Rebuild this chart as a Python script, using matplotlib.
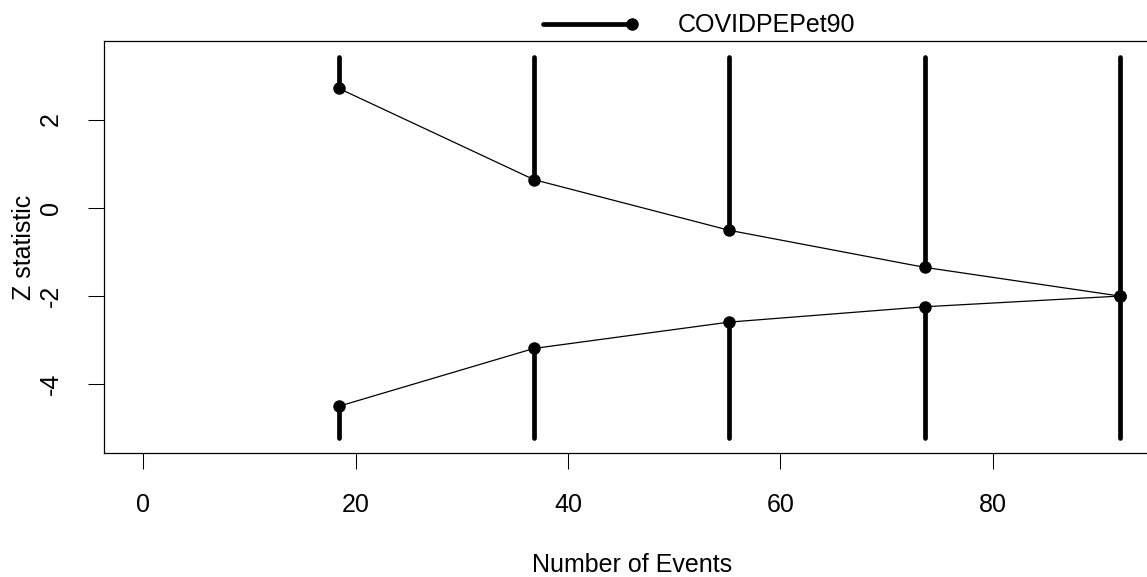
import matplotlib
matplotlib.use("Agg")
import matplotlib.pyplot as plt
from matplotlib.lines import Line2D

plt.rcParams["font.family"] = ["Liberation Sans", "DejaVu Sans"]
plt.rcParams["font.size"] = 18

# sınırlar (grup sıralı tasarım)
events = [18.4, 36.8, 55.2, 73.6, 92.0]
upper_z = [2.71, 0.636, -0.514, -1.355, -2.007]
lower_z = [-4.51, -3.196, -2.598, -2.25, -2.007]
z_top = 3.43
z_bottom = -5.23
x_ticks = [0, 20, 40, 60, 80]
y_ticks = [-4, -2, 0, 2]
legend_label = "COVIDPEPet90"

W, H = 1147, 577
fig = plt.figure(figsize=(W / 100, H / 100), dpi=100)
ax = fig.add_axes([104.2 / W, 1 - 453.3 / H, (1159 - 104.2) / W, (453.3 - 41.3) / H])

thick = 3.4
ax.vlines(events, upper_z, z_top, colors="black", lw=thick, capstyle="round")
ax.vlines(events, z_bottom, lower_z, colors="black", lw=thick, capstyle="round")
ax.plot(events, upper_z, color="black", lw=0.9, marker="o", ms=9, mew=0)
ax.plot(events, lower_z, color="black", lw=0.9, marker="o", ms=9, mew=0)

# R tarzı %4 genişletme
xr = events[-1] - 0
ax.set_xlim(0 - 0.04 * xr, events[-1] + 0.04 * xr)
yr = z_top - z_bottom
ax.set_ylim(z_bottom - 0.04 * yr, z_top + 0.04 * yr)

ax.set_xticks(x_ticks)
ax.set_yticks(y_ticks)
ax.set_yticklabels([str(v) for v in y_ticks], rotation=90, va="center")
ax.tick_params(axis="both", length=11.5, width=0.75, labelsize=18)
ax.tick_params(axis="x", pad=17)
ax.tick_params(axis="y", pad=18)
for s in ax.spines.values():
    s.set_linewidth(0.9)

ax.set_xlabel("Number of Events", fontsize=18, labelpad=26)
ax.set_ylabel("Z statistic", fontsize=18, labelpad=2)

# lejant (üstte, çizim alanı dışında)
ly = 1 - 24 / H
fig.add_artist(Line2D([543 / W, 631 / W], [ly, ly], color="black", lw=thick,
                      solid_capstyle="round"))
fig.add_artist(Line2D([632 / W], [ly], color="black", marker="o", ms=9, mew=0))
fig.text(678 / W, 1 - 25 / H, legend_label, fontsize=18, va="center", ha="left")

fig.savefig("out.png", dpi=100)
